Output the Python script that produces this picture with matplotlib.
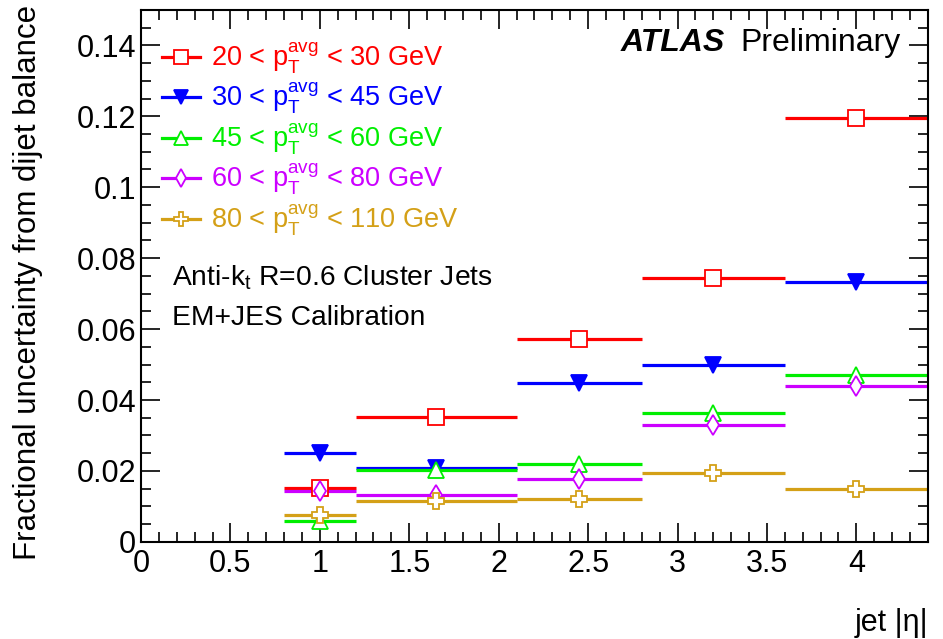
import numpy as np
import matplotlib.pyplot as plt
from matplotlib.ticker import MultipleLocator
from matplotlib.lines import Line2D

plt.rcParams['font.family'] = ['Liberation Sans', 'DejaVu Sans']
plt.rcParams['mathtext.fontset'] = 'custom'
plt.rcParams['mathtext.rm'] = 'Liberation Sans'
plt.rcParams['mathtext.it'] = 'Liberation Sans:italic'

# |eta| bins
edges = [0.8, 1.2, 2.1, 2.8, 3.6, 4.4]
centers = [1.0, 1.65, 2.45, 3.2, 4.0]

unc_20_30 = [0.0153, 0.0351, 0.0572, 0.0745, 0.1194]
unc_30_45 = [0.0250, 0.0207, 0.0447, 0.0500, 0.0732]
unc_45_60 = [0.0060, 0.0202, 0.0220, 0.0364, 0.0470]
unc_60_80 = [0.0143, 0.0133, 0.0176, 0.0330, 0.0440]
unc_80_110 = [0.0075, 0.0115, 0.0122, 0.0195, 0.0148]

labels = ["20 < $\\mathregular{p_T^{avg}}$ < 30 GeV",
          "30 < $\\mathregular{p_T^{avg}}$ < 45 GeV",
          "45 < $\\mathregular{p_T^{avg}}$ < 60 GeV",
          "60 < $\\mathregular{p_T^{avg}}$ < 80 GeV",
          "80 < $\\mathregular{p_T^{avg}}$ < 110 GeV"]
colors = ["#ff0000", "#0000ff", "#00ee00", "#cc00ff", "#d4a017"]
markers = ["s", "v", "^", "d", "P"]
series = [unc_20_30, unc_30_45, unc_45_60, unc_60_80, unc_80_110]

fig = plt.figure(figsize=(9.43, 6.39), dpi=100)
ax = fig.add_axes([0.1495, 0.152, 0.8345, 0.8325])

edges = np.array(edges)
xlo = np.array(centers) - edges[:-1]
xhi = edges[1:] - np.array(centers)

handles = []
for y, lab, c, m in zip(series, labels, colors, markers):
    fc = c if m == "v" else "white"
    ms = 10 if m == "d" else 11
    ax.errorbar(centers, y, xerr=[xlo, xhi], fmt=m, color=c, ecolor=c,
                elinewidth=2.3, capsize=0, markersize=ms,
                mfc=fc, mec=c, mew=1.3)
    handles.append(Line2D([], [], color=c, lw=2.3, marker=m, markersize=ms - 1,
                          mfc=fc, mec=c, mew=1.3, label=lab))

ax.set_xlim(0, 4.4)
ax.set_ylim(0, 0.15)
ax.xaxis.set_minor_locator(MultipleLocator(0.1))
ax.yaxis.set_minor_locator(MultipleLocator(0.005))
ax.set_yticks([0, 0.02, 0.04, 0.06, 0.08, 0.1, 0.12, 0.14])
ax.set_yticklabels(["0", "0.02", "0.04", "0.06", "0.08", "0.1", "0.12", "0.14"])
ax.set_xticks([0, 0.5, 1, 1.5, 2, 2.5, 3, 3.5, 4])
ax.set_xticklabels(["0", "0.5", "1", "1.5", "2", "2.5", "3", "3.5", "4"])
ax.tick_params(which="both", direction="in", top=True, right=True, labelsize=22,
               width=1.2)
ax.tick_params(which="major", length=14)
ax.tick_params(which="minor", length=7)
ax.tick_params(axis="x", pad=5)
for s in ax.spines.values():
    s.set_linewidth(1.5)

ax.set_ylabel("Fractional uncertainty from dijet balance", fontsize=22.5)
ax.yaxis.set_label_coords(-0.125, 1.01)
ax.yaxis.label.set_horizontalalignment("right")
ax.set_xlabel("jet |η|", fontsize=22)
ax.xaxis.set_label_coords(1.0, -0.125)
ax.xaxis.label.set_horizontalalignment("right")

leg = ax.legend(handles=handles, loc="upper left", bbox_to_anchor=(0.027, 0.943),
                frameon=False, fontsize=19.5, handlelength=1.4, handletextpad=0.4,
                labelspacing=0.19, borderaxespad=0, borderpad=0)
for t, c in zip(leg.get_texts(), colors):
    t.set_color(c)

ax.text(0.04, 0.496, "Anti-k$_\\mathregular{t}$ R=0.6 Cluster Jets", transform=ax.transAxes,
        fontsize=20.3, va="center")
ax.text(0.04, 0.421, "EM+JES Calibration", transform=ax.transAxes,
        fontsize=20.3, va="center")
ax.text(0.742, 0.937, "ATLAS", transform=ax.transAxes, fontsize=23,
        fontweight="bold", fontstyle="italic", ha="right", va="center")
ax.text(0.965, 0.937, "Preliminary", transform=ax.transAxes, fontsize=23,
        ha="right", va="center")

plt.savefig("out.png", dpi=100)
